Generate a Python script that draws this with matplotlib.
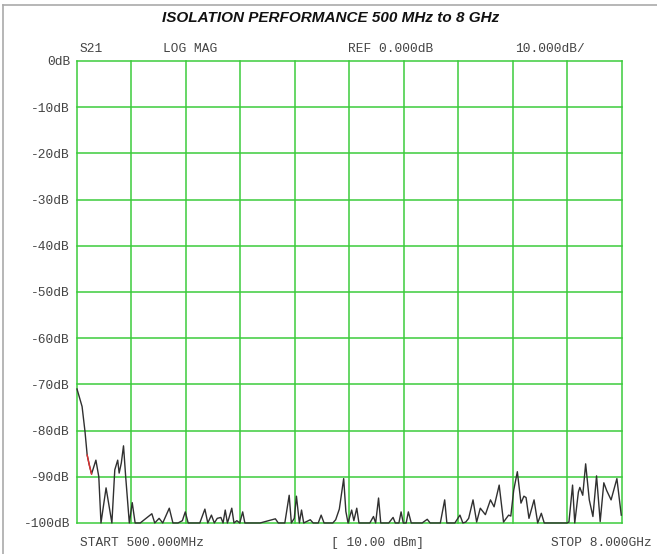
import matplotlib.pyplot as plt
import matplotlib.lines as mlines
import numpy as np

plt.rcParams['font.family'] = ['Liberation Mono', 'DejaVu Sans Mono']

# S21 trace, frequency in GHz, level in dB
freq_ghz = [
    0.50, 0.57, 0.61, 0.64, 0.67, 0.70, 0.76, 0.80, 0.83, 0.90,
    0.98, 1.02, 1.06, 1.08, 1.11, 1.14, 1.17, 1.22, 1.26, 1.30,
    1.37, 1.53, 1.57, 1.63, 1.68, 1.77, 1.82, 1.89, 1.95, 1.99,
    2.03, 2.19, 2.26, 2.30, 2.35, 2.39, 2.43, 2.48, 2.51, 2.54,
    2.57, 2.59, 2.63, 2.66, 2.70, 2.74, 2.78, 2.81, 3.02, 3.23,
    3.27, 3.36, 3.42, 3.45, 3.49, 3.52, 3.56, 3.59, 3.62, 3.71,
    3.75, 3.82, 3.86, 3.90, 4.02, 4.06, 4.11, 4.17, 4.20, 4.23,
    4.28, 4.31, 4.35, 4.38, 4.53, 4.58, 4.61, 4.65, 4.68, 4.79,
    4.85, 4.88, 4.93, 4.96, 4.99, 5.03, 5.06, 5.10, 5.25, 5.32,
    5.36, 5.50, 5.56, 5.59, 5.70, 5.77, 5.81, 5.85, 5.89, 5.95,
    6.00, 6.05, 6.12, 6.19, 6.24, 6.31, 6.37, 6.44, 6.47, 6.51,
    6.56, 6.61, 6.65, 6.68, 6.72, 6.79, 6.84, 6.89, 6.93, 7.08,
    7.24, 7.27, 7.32, 7.35, 7.40, 7.42, 7.46, 7.50, 7.55, 7.60,
    7.65, 7.70, 7.75, 7.79, 7.85, 7.93, 7.99,
]
s21_db = [
    -71.0, -74.8, -80.2, -85.3, -87.5, -89.4, -86.4, -90.0, -100.0, -92.4,
    -100.0, -88.5, -86.4, -89.2, -87.0, -83.3, -90.0, -100.0, -95.6, -100.0,
    -100.0, -98.0, -100.0, -99.0, -100.0, -96.8, -100.0, -100.0, -99.5, -97.6,
    -100.0, -100.0, -97.0, -100.0, -98.3, -100.0, -99.0, -98.8, -100.0, -97.2,
    -100.0, -99.0, -96.8, -100.0, -99.5, -100.0, -97.6, -100.0, -100.0, -99.1,
    -100.0, -100.0, -94.0, -100.0, -99.0, -94.2, -100.0, -97.2, -100.0, -99.3,
    -100.0, -100.0, -98.3, -100.0, -100.0, -99.3, -97.0, -90.4, -97.5, -100.0,
    -97.2, -99.5, -96.8, -100.0, -100.0, -98.6, -100.0, -94.6, -100.0, -100.0,
    -98.8, -100.0, -100.0, -97.6, -100.0, -100.0, -97.6, -100.0, -100.0, -99.2,
    -100.0, -100.0, -95.0, -100.0, -100.0, -98.3, -100.0, -99.8, -99.0, -95.0,
    -99.8, -96.8, -98.2, -95.0, -96.5, -91.8, -99.8, -98.3, -98.5, -92.9,
    -88.9, -95.7, -94.2, -94.5, -99.0, -95.0, -100.0, -97.9, -100.0, -100.0,
    -100.0, -99.8, -91.8, -100.0, -93.3, -92.3, -94.0, -87.2, -95.0, -98.6,
    -89.8, -99.7, -91.3, -93.0, -95.0, -90.4, -98.3,
]
# short stretch drawn in red on the instrument
red_start, red_stop = 3, 6

y_ticks = list(range(0, -101, -10))
y_labels = [f'{v}dB' for v in y_ticks]
x_ticks = np.linspace(0.5, 8.0, 11)

fig = plt.figure(figsize=(6.57, 5.54), dpi=100, facecolor='white')
ax = fig.add_axes([0.1172, 0.056, 0.8295, 0.8339])

ax.plot(freq_ghz, s21_db, color='#303030', lw=1.0, zorder=3, clip_on=False)
ax.plot(freq_ghz[red_start:red_stop], s21_db[red_start:red_stop],
        color='#e03030', lw=1.0, zorder=4, clip_on=False)

ax.set_xlim(0.5, 8.0)
ax.set_ylim(-100, 0)
ax.set_xticks(x_ticks)
ax.set_xticklabels([])
ax.set_yticks(y_ticks)
ax.set_yticklabels(y_labels, fontsize=9.3, color='#444444')
ax.tick_params(length=0, pad=5)
for s in ax.spines.values():
    s.set_visible(False)

ax.grid(True, color='#3ccc3c', lw=1.1)
for gl in ax.get_xgridlines() + ax.get_ygridlines():
    gl.set_clip_on(False)

# header / footer annotations like the analyzer screen
hdr = dict(fontsize=9.3, color='#444444', va='center')
fig.text(80 / 657, 1 - 49 / 554, 'S21', **hdr)
fig.text(163 / 657, 1 - 49 / 554, 'LOG MAG', **hdr)
fig.text(348 / 657, 1 - 49 / 554, 'REF 0.000dB', **hdr)
fig.text(515 / 657, 1 - 49 / 554, '10.000dB/', **hdr)
fig.text(80 / 657, 1 - 543 / 554, 'START 500.000MHz', **hdr)
fig.text(331 / 657, 1 - 543 / 554, '[ 10.00 dBm]', **hdr)
fig.text(551 / 657, 1 - 543 / 554, 'STOP 8.000GHz', **hdr)

fig.text(0.503, 1 - 18 / 554, 'ISOLATION PERFORMANCE 500 MHz to 8 GHz',
         ha='center', va='center', fontsize=11, fontweight='bold',
         fontstyle='italic', family='Liberation Sans', color='#111111')

# light gray frame on the left and top of the page
fig.add_artist(mlines.Line2D([3 / 657, 3 / 657], [0, 1 - 5 / 554],
                             color='#aaaaaa', lw=1.2))
fig.add_artist(mlines.Line2D([3 / 657, 1], [1 - 5 / 554, 1 - 5 / 554],
                             color='#aaaaaa', lw=1.2))

fig.savefig('out.png', dpi=100)
